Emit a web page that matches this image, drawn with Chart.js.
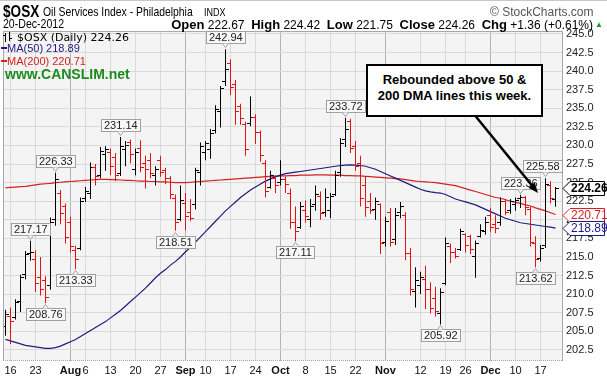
<!DOCTYPE html>
<html><head><meta charset="utf-8">
<script src="https://cdn.jsdelivr.net/npm/chart.js@4.4.1/dist/chart.umd.min.js"></script>
<style>
html,body{margin:0;padding:0;background:#fff;}
#wrap{position:relative;width:607px;height:381px;overflow:hidden;font-family:"Liberation Sans",Arial,sans-serif;color:#000;}
#c{position:absolute;left:0;top:0;}
.t{position:absolute;white-space:nowrap;line-height:1;}
.n{transform-origin:0 0;}
</style></head><body>
<div id="wrap">
<canvas id="c" width="607" height="381"></canvas>
<div class="t" style="left:0;top:0;width:607px;height:1px;background:#c8c8c8"></div>
<div class="t n" style="left:3px;top:3px;font-size:17px;font-weight:bold;transform:scaleX(0.8);">$OSX</div>
<div class="t n" style="left:43px;top:5px;font-size:13px;transform:scaleX(0.8);">Oil Services Index - Philadelphia</div>
<div class="t n" style="left:204px;top:8px;font-size:10px;transform:scaleX(0.9);">INDX</div>
<div class="t" style="left:490px;top:6px;font-size:12px;color:#555;">© StockCharts.com</div>
<div class="t n" style="left:3px;top:18px;font-size:12px;transform:scaleX(0.88);">20-Dec-2012</div>
<div class="t" style="right:14px;top:18px;font-size:12px;"><b style="font-size:13px">Open</b> 222.67 &nbsp;<b style="font-size:13px">High</b> 224.42 &nbsp;<b style="font-size:13px">Low</b> 221.75 &nbsp;<b style="font-size:13px">Close</b> 224.26 &nbsp;<b style="font-size:13px">Chg</b> +1.36 (+0.61%)</div>
<div class="t" style="left:595px;top:21px;font-size:8px;color:#1a9a1a;">▲</div>
<div class="t" style="left:5px;top:33px;width:1px;height:9px;background:#000"></div>
<div class="t" style="left:3px;top:35px;width:2px;height:1px;background:#000"></div>
<div class="t" style="left:9px;top:32px;width:1px;height:9px;background:#000"></div>
<div class="t" style="left:10px;top:38px;width:2px;height:1px;background:#000"></div>
<div class="t" style="left:17px;top:32px;font-size:11px;font-family:'DejaVu Sans';">$OSX (Daily) 224.26</div>
<div class="t" style="left:1px;top:47px;width:6px;height:2px;background:#1c1c80"></div>
<div class="t" style="left:7px;top:43px;font-size:11px;color:#1c1c80;">MA(50) 218.89</div>
<div class="t" style="left:1px;top:60px;width:6px;height:2px;background:#d42020"></div>
<div class="t" style="left:7px;top:56px;font-size:11px;color:#d42020;">MA(200) 220.71</div>
<div class="t" style="left:5px;top:67px;font-size:14px;font-weight:bold;color:#1d8a1d;">www.CANSLIM.net</div>
<div class="t" style="left:366px;top:64px;width:173px;height:43px;border:2px solid #000;background:#fff;font-size:13px;font-weight:bold;text-align:center;line-height:16px;padding-top:6px;box-sizing:content-box;">Rebounded above 50 &amp;<br>200 DMA lines this week.</div>
</div>
<script>
// ---- data ----
const dates = ["Jul 13","Jul 16","Jul 17","Jul 18","Jul 19","Jul 20","Jul 23","Jul 24","Jul 25","Jul 26","Jul 27","Jul 30","Jul 31",
"Aug 1","Aug 2","Aug 3","Aug 6","Aug 7","Aug 8","Aug 9","Aug 10","Aug 13","Aug 14","Aug 15","Aug 16","Aug 17","Aug 20","Aug 21","Aug 22","Aug 23","Aug 24","Aug 27","Aug 28","Aug 29","Aug 30","Aug 31",
"Sep 4","Sep 5","Sep 6","Sep 7","Sep 10","Sep 11","Sep 12","Sep 13","Sep 14","Sep 17","Sep 18","Sep 19","Sep 20","Sep 21","Sep 24","Sep 25","Sep 26","Sep 27","Sep 28",
"Oct 1","Oct 2","Oct 3","Oct 4","Oct 5","Oct 8","Oct 9","Oct 10","Oct 11","Oct 12","Oct 15","Oct 16","Oct 17","Oct 18","Oct 19","Oct 22","Oct 23","Oct 24","Oct 25","Oct 26","Oct 31",
"Nov 1","Nov 2","Nov 5","Nov 6","Nov 7","Nov 8","Nov 9","Nov 12","Nov 13","Nov 14","Nov 15","Nov 16","Nov 19","Nov 20","Nov 21","Nov 23","Nov 26","Nov 27","Nov 28","Nov 29","Nov 30",
"Dec 3","Dec 4","Dec 5","Dec 6","Dec 7","Dec 10","Dec 11","Dec 12","Dec 13","Dec 14","Dec 17","Dec 18","Dec 19","Dec 20"];
const opens = [205.6,207.0,206.8,209.0,212.6,215.5,214.6,212.2,211.8,211.2,220.0,223.5,221.8,
219.6,215.8,216.2,222.8,223.6,227.0,226.0,228.8,229.0,228.4,226.2,229.4,230.4,226.8,229.6,227.6,228.0,226.0,228.0,226.6,225.6,222.8,220.0,
222.2,221.0,222.0,226.4,229.0,229.4,232.0,234.6,238.6,241.0,238.2,235.2,232.8,233.0,233.8,231.8,227.6,224.4,225.6,
225.0,225.4,223.6,219.6,219.0,221.2,220.0,222.0,223.2,221.0,221.2,223.4,226.4,230.8,233.2,229.8,227.6,224.6,222.4,221.4,222.0,
217.0,221.0,217.4,221.0,220.6,215.4,210.4,211.2,212.0,210.6,209.4,207.4,211.4,216.4,215.6,216.0,218.0,217.8,215.0,217.8,218.4,
220.6,219.4,219.6,222.4,221.2,222.0,222.8,223.0,221.4,216.8,214.8,216.6,224.6,222.67];
const highs = [207.9,208.2,209.3,212.6,215.8,217.17,215.9,215.0,212.4,220.3,226.33,224.0,222.2,
220.4,216.5,223.0,224.4,227.7,227.5,229.8,229.9,229.6,229.0,231.14,230.6,230.8,229.6,230.7,228.6,229.0,227.2,228.6,227.0,225.9,223.4,224.6,
223.6,222.8,227.0,230.4,230.6,232.2,235.4,238.0,242.94,241.6,238.8,235.6,233.2,236.6,234.2,232.0,228.0,226.6,226.0,
228.0,225.8,224.2,221.8,222.4,222.6,222.8,224.6,223.8,224.2,223.6,226.6,231.0,233.72,233.6,230.6,228.6,225.8,223.6,223.0,222.2,
220.4,221.6,221.6,222.4,221.0,216.2,213.6,213.0,213.8,211.6,211.0,210.8,217.6,216.8,216.2,218.8,218.2,218.0,217.2,219.4,220.4,
221.6,220.6,223.0,222.8,222.8,223.0,223.36,223.2,221.8,217.8,216.6,225.58,225.2,224.42];
const lows = [204.4,203.3,206.6,207.6,212.0,214.5,210.3,209.8,208.76,210.6,219.2,219.4,216.8,
215.6,213.33,215.9,222.4,222.8,224.6,225.6,226.6,226.0,225.2,225.9,227.2,227.6,226.0,226.4,224.2,225.6,224.6,225.8,224.8,222.8,218.51,219.8,
218.6,219.8,221.4,224.6,228.0,228.2,231.6,232.4,238.0,236.8,232.8,232.8,228.6,232.6,230.2,227.8,223.0,224.2,223.6,
224.6,223.6,218.8,217.11,218.8,219.6,219.0,221.2,220.0,220.4,220.2,223.2,225.8,229.8,229.0,226.6,221.8,220.4,220.8,220.0,215.4,
216.4,216.4,216.6,220.2,214.6,209.8,208.2,210.0,208.0,207.4,207.0,205.92,211.2,214.2,214.8,215.8,215.6,215.4,212.2,217.6,218.0,
218.4,218.2,219.2,220.6,220.8,221.2,221.6,220.6,216.4,213.62,214.4,216.2,222.2,221.75];
const closes = [207.2,206.3,208.9,212.2,215.3,215.6,211.4,210.6,209.6,219.6,225.4,220.8,217.6,
216.4,214.6,222.4,223.8,227.0,225.8,229.2,229.5,227.2,226.0,229.8,230.0,228.8,229.0,227.0,226.8,226.2,226.8,226.4,225.6,223.4,219.6,222.6,
220.4,220.2,226.6,229.8,230.2,231.6,234.8,237.6,240.2,237.8,234.6,233.6,229.4,233.8,231.8,228.6,223.8,226.0,224.6,
225.4,224.8,219.6,218.4,221.8,220.4,221.8,223.4,220.8,223.0,223.2,226.0,230.2,232.2,229.6,227.2,222.8,221.6,221.2,222.4,216.8,
219.8,217.0,220.6,221.8,215.4,210.6,211.8,212.2,210.6,208.0,207.6,210.2,216.8,215.6,215.0,218.4,216.6,216.0,216.8,218.6,219.6,
219.0,218.8,222.4,221.0,222.4,222.6,223.0,221.6,217.0,214.6,216.2,224.8,222.90,224.26];
const ma50 = [203.9,203.7,203.5,203.3,203.1,203.0,202.9,202.8,202.7,202.7,202.8,203.0,203.3,
203.6,203.9,204.3,204.7,205.1,205.5,205.9,206.3,206.8,207.3,207.8,208.4,209.0,209.6,210.2,210.8,211.5,212.2,212.8,213.3,213.9,214.4,215.0,
215.7,216.3,217.0,217.7,218.4,219.1,219.8,220.5,221.2,221.8,222.4,223.0,223.5,224.0,224.4,224.8,225.2,225.5,225.8,
226.0,226.2,226.3,226.4,226.5,226.6,226.7,226.8,226.9,227.0,227.1,227.2,227.3,227.35,227.4,227.35,227.3,227.2,227.0,226.8,226.5,
226.2,225.9,225.6,225.3,225.0,224.7,224.4,224.1,223.9,223.75,223.65,223.6,223.4,223.1,222.8,222.6,222.4,222.2,222.0,221.7,221.4,
221.1,220.8,220.5,220.2,220.0,219.8,219.6,219.5,219.4,219.3,219.2,219.1,219.0,218.89];
const ma200 = [224.3,224.35,224.4,224.45,224.5,224.6,224.7,224.8,224.85,224.9,225.0,225.05,225.1,
225.15,225.2,225.25,225.3,225.35,225.4,225.45,225.45,225.4,225.4,225.35,225.3,225.3,225.25,225.2,225.2,225.15,225.15,225.1,225.1,225.05,225.0,225.0,
225.0,225.05,225.1,225.15,225.2,225.25,225.3,225.35,225.4,225.45,225.5,225.55,225.6,225.65,225.7,225.75,225.8,225.85,225.85,
225.9,225.9,225.95,225.95,226.0,226.0,226.0,226.05,226.05,226.05,226.0,226.0,226.0,225.95,225.95,225.9,225.9,225.85,225.8,225.75,225.7,
225.65,225.6,225.55,225.5,225.4,225.3,225.2,225.15,225.1,225.05,225.0,224.9,224.8,224.7,224.6,224.4,224.2,224.0,223.8,223.6,223.4,
223.2,223.0,222.9,222.7,222.5,222.35,222.2,222.0,221.85,221.6,221.4,221.2,220.95,220.71];
const peakIdx = [5,10,23,44,68,103,108];
const troughIdx = [8,14,34,58,87,106];
const tickIdx = [1,6,13,16,21,26,31,36,40,45,50,55,60,65,70,76,83,88,92,97,102,107];
const tickText = ['16','23','Aug','6','13','20','27','Sep','10','17','24','Oct','8','15','22','Nov','12','19','26','Dec','10','17'];
const monthNames = ['Aug','Sep','Oct','Nov','Dec'];
const yTicks = [202.5,205,207.5,210,212.5,215,217.5,220,222.5,225,227.5,230,232.5,235,237.5,240,242.5,245];

const UP = '#000000', DOWN = '#e01212';
const barColors = closes.map((c,i)=> (i>0 && c < closes[i-1]) ? DOWN : UP);
const FONT = "'Liberation Sans', Arial, sans-serif";

const bgPlugin = {
  id:'bg',
  beforeDraw(chart){
    const {ctx, chartArea:a} = chart;
    ctx.save(); ctx.fillStyle = '#f4f4f4';
    ctx.fillRect(a.left, a.top, a.width, a.height); ctx.restore();
  }
};
const ohlcPlugin = {
  id:'ohlc',
  afterDatasetsDraw(chart){
    const {ctx, scales:{x,y}, chartArea:a} = chart;
    ctx.save();
    ctx.beginPath(); ctx.rect(a.left,a.top,a.width,a.height); ctx.clip();
    for (let i=0;i<closes.length;i++){
      const col = Math.floor(x.getPixelForValue(i));
      ctx.fillStyle = barColors[i];
      ctx.fillRect(col-3, Math.round(y.getPixelForValue(opens[i])-0.5), 3, 1);
      ctx.fillRect(col+1, Math.round(y.getPixelForValue(closes[i])-0.5), 3, 1);
    }
    ctx.restore();
  }
};
function valueBox(ctx, cx, yEdge, text, above){
  ctx.font = "11px " + FONT;
  const w = Math.round(ctx.measureText(text).width) + 6, h = 13;
  let left = Math.round(cx - w/2);
  left = Math.min(left, 563 - w);
  const top = above ? Math.round(yEdge) - 5 - h : Math.round(yEdge) + 5;
  ctx.fillStyle = '#f8f8f8'; ctx.strokeStyle = '#a0a0a0'; ctx.lineWidth = 1;
  ctx.fillRect(left, top, w, h);
  ctx.strokeRect(left+0.5, top+0.5, w-1, h-1);
  ctx.beginPath();
  if (above){ ctx.moveTo(cx-3, top+h-0.5); ctx.lineTo(cx, top+h+3.5); ctx.lineTo(cx+3, top+h-0.5); }
  else { ctx.moveTo(cx-3, top+0.5); ctx.lineTo(cx, top-3.5); ctx.lineTo(cx+3, top+0.5); }
  ctx.fillStyle = '#f8f8f8'; ctx.fill(); ctx.stroke();
  ctx.fillStyle = '#222'; ctx.textBaseline = 'middle'; ctx.textAlign = 'left';
  ctx.fillText(text, left+3, top + h/2 + 0.5);
}
function tag(ctx, yc, text, color, bold){
  yc = Math.round(yc) + 0.5;
  ctx.beginPath();
  ctx.moveTo(563, yc); ctx.lineTo(570, yc-7); ctx.lineTo(604.5, yc-7); ctx.lineTo(604.5, yc+7); ctx.lineTo(570, yc+7); ctx.closePath();
  ctx.fillStyle = '#fff'; ctx.fill();
  ctx.strokeStyle = color; ctx.lineWidth = 1; ctx.stroke();
  ctx.fillStyle = color; ctx.font = (bold ? 'bold ' : '') + "12px " + FONT;
  ctx.textBaseline = 'middle'; ctx.textAlign = 'left';
  ctx.fillText(text, 571, yc+0.5);
}
const annoPlugin = {
  id:'anno',
  afterDraw(chart){
    const {ctx, scales:{x,y}, chartArea:a} = chart;
    ctx.save();
    ctx.strokeStyle = '#a8a8a8'; ctx.lineWidth = 1;
    ctx.beginPath();
    ctx.moveTo(a.left+0.5, a.bottom); ctx.lineTo(a.left+0.5, a.top+0.5); ctx.lineTo(a.right-0.5, a.top+0.5); ctx.lineTo(a.right-0.5, a.bottom);
    ctx.stroke();
    ctx.setLineDash([1,1]);
    ctx.beginPath(); ctx.moveTo(a.left, a.bottom-0.5); ctx.lineTo(a.right, a.bottom-0.5); ctx.stroke();
    ctx.setLineDash([]);
    peakIdx.forEach(i => valueBox(ctx, Math.floor(x.getPixelForValue(i))+0.5, y.getPixelForValue(highs[i]), highs[i].toFixed(2), true));
    troughIdx.forEach(i => valueBox(ctx, Math.floor(x.getPixelForValue(i))+0.5, y.getPixelForValue(lows[i]), lows[i].toFixed(2), false));
    ctx.strokeStyle = '#000'; ctx.lineWidth = 2.5;
    const x0 = 473, y0 = 113, x1 = 538, y1 = 193;
    ctx.beginPath(); ctx.moveTo(x0,y0); ctx.lineTo(x1-4, y1-5); ctx.stroke();
    const ang = Math.atan2(y1-y0, x1-x0);
    ctx.fillStyle = '#000'; ctx.beginPath();
    ctx.moveTo(x1, y1);
    ctx.lineTo(x1 - 11*Math.cos(ang-0.38), y1 - 11*Math.sin(ang-0.38));
    ctx.lineTo(x1 - 11*Math.cos(ang+0.38), y1 - 11*Math.sin(ang+0.38));
    ctx.closePath(); ctx.fill();
    const last = closes.length-1;
    tag(ctx, y.getPixelForValue(closes[last]), closes[last].toFixed(2), '#000', true);
    tag(ctx, y.getPixelForValue(ma200[last]), ma200[last].toFixed(2), '#d42020', false);
    tag(ctx, y.getPixelForValue(ma50[last]), ma50[last].toFixed(2), '#1c1c80', false);
    ctx.restore();
  }
};

new Chart(document.getElementById('c'), {
  type: 'line',
  data: {
    datasets: [
      { type:'line', label:'MA(50)', data: ma50.map((v,i)=>({x:i,y:v})), borderColor:'#1c1c80', borderWidth:1.2, pointRadius:0, tension:0, order:1 },
      { type:'line', label:'MA(200)', data: ma200.map((v,i)=>({x:i,y:v})), borderColor:'#d42020', borderWidth:1.2, pointRadius:0, tension:0, order:2 },
      { type:'bar', label:'$OSX', data: highs.map((h,i)=>({x:i, y:[lows[i], h]})), backgroundColor: barColors, borderWidth:0, barThickness:1, inflateAmount:0, grouped:false, order:0 }
    ]
  },
  options: {
    responsive:false, animation:false, devicePixelRatio:1,
    layout:{ padding:{ left:3, top:31, right:0, bottom:0 } },
    plugins:{ legend:{display:false}, tooltip:{enabled:false} },
    scales:{
      x:{ type:'linear', min:-0.5, max:111.5, offset:false,
        afterBuildTicks(s){ s.ticks = tickIdx.map(v=>({value:v})); },
        afterFit(s){ s.height = 20; },
        grid:{ offset:false, drawTicks:false,
          color:(c)=> (c.tick && monthNames.includes(tickText[tickIdx.indexOf(c.tick.value)])) ? '#b4b4b4' : '#dadada' },
        border:{display:false},
        ticks:{ autoSkip:false, maxRotation:0, padding:3, color:'#111',
          callback:(v)=> tickText[tickIdx.indexOf(v)] ?? '',
          font:(c)=> ({ family:FONT, size: 11, weight: (c.tick && monthNames.includes(tickText[tickIdx.indexOf(c.tick.value)])) ? 'bold' : 'normal' }) }
      },
      y:{ type:'linear', position:'right', min:201.0, max:245.4,
        afterBuildTicks(s){ s.ticks = yTicks.map(v=>({value:v})); },
        afterFit(s){ s.width = 44; },
        grid:{ color:'#dadada', drawTicks:false },
        border:{display:false},
        ticks:{ padding:3, color:'#222', font:{family:FONT, size:11}, callback:(v)=> Number(v).toFixed(1) }
      }
    }
  },
  plugins:[bgPlugin, ohlcPlugin, annoPlugin]
});
</script>
</body></html>
